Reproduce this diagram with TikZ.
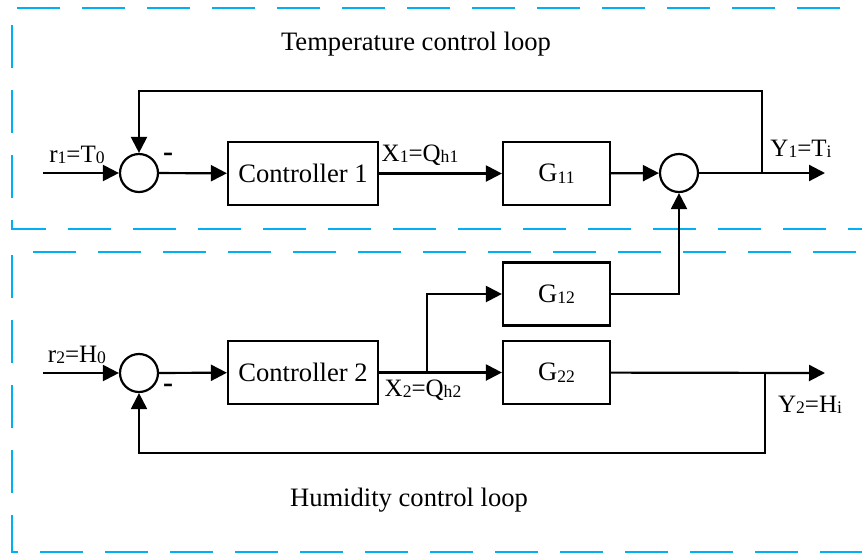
\documentclass[tikz,border=0pt]{standalone}
\usepackage{fontspec}
\setmainfont{Liberation Serif}
\usetikzlibrary{arrows.meta, positioning}
\definecolor{loopblue}{RGB}{0,176,240}
\newcommand{\lsub}[1]{\raisebox{-0.8pt}{\fontsize{8.8}{9}\selectfont #1}}
\tikzset{
    block/.style={rectangle, draw, line width=1.1pt, minimum height=31.5pt, text centered, inner sep=0pt},
    sumnode/.style={circle, draw, line width=1.1pt, minimum size=19pt, inner sep=0pt},
    signal/.style={-{Triangle[length=8pt,width=8pt]}, line width=1.1pt},
    wire/.style={-, line width=1.1pt},
    loopframe/.style={draw=loopblue, line width=1.2pt, dash pattern=on 21.5pt off 11pt},
    varlabel/.style={font=\fontsize{12.5}{14}\selectfont, inner sep=0pt},
    minuslabel/.style={font=\fontsize{15}{16}\selectfont\bfseries, inner sep=0pt},
    looptitle/.style={font=\fontsize{13.3}{16}\selectfont, inner sep=0pt}
}
\begin{document}
\begin{tikzpicture}[x=0.5pt, y=-0.5pt, font=\fontsize{13.3}{16}\selectfont]
    \useasboundingbox (0,0) rectangle (862,553);

    % Loop frames
    \draw[loopframe] (17,8) -- (880,8);
    \draw[loopframe] (12,25) -- (12,229) -- (880,229);
    \draw[loopframe] (33,252) -- (880,252);
    \draw[loopframe] (12,255) -- (12,552) -- (880,552);
    \node[looptitle] (ttitle) at (416,44) {Temperature control loop};
    \node[looptitle] (htitle) at (409,500) {Humidity control loop};

    % Temperature loop
    \coordinate (in1) at (43,173);
    \node[sumnode] (sum1) at (139,173) {};
    \node[block, minimum width=75pt] (ctrl1) at (303,173.5) {Controller 1};
    \node[block, minimum width=53.5pt] (g11) at (556.5,173.5) {G\lsub{11}};
    \node[sumnode] (sum2) at (679,173) {};
    \coordinate (br1) at (762,173);
    \coordinate (y1out) at (825,173);

    % Humidity loop
    \coordinate (in2) at (43,373);
    \node[sumnode] (sum3) at (139,373) {};
    \node[block, minimum width=75pt] (ctrl2) at (303,372.5) {Controller 2};
    \coordinate (br2) at (427,373);
    \node[block, minimum width=53.5pt] (g12) at (556.5,294) {G\lsub{12}};
    \node[block, minimum width=53.5pt] (g22) at (556.5,372.5) {G\lsub{22}};
    \coordinate (br3) at (765,373);
    \coordinate (y2out) at (825,373);

    % Signal labels
    \node[varlabel] (r1) at (77,155) {r\lsub{1}=T\lsub{0}};
    \node[minuslabel] (m1) at (168,157) {-};
    \node[varlabel] (x1) at (420,155) {X\lsub{1}=Q\lsub{h1}};
    \node[varlabel] (y1) at (801,149) {Y\lsub{1}=T\lsub{i}};
    \node[varlabel] (r2) at (77,355) {r\lsub{2}=H\lsub{0}};
    \node[minuslabel] (m2) at (168,388) {-};
    \node[varlabel] (x2) at (423,390) {X\lsub{2}=Q\lsub{h2}};
    \node[varlabel] (y2) at (810,405) {Y\lsub{2}=H\lsub{i}};

    % Connections
    \draw[signal] (in1) -- (sum1);
    \draw[signal] (sum1) -- (ctrl1);
    \draw[signal] (ctrl1) -- (g11);
    \draw[signal] (g11) -- (sum2);
    \draw[signal] (sum2) -- (y1out);
    \draw[signal] (br1) -- ++(0,-82) -| (sum1);
    \draw[signal] (in2) -- (sum3);
    \draw[signal] (sum3) -- (ctrl2);
    \draw[signal] (ctrl2.east) -- (g22.west);
    \draw[signal] (br2) |- (g12);
    \draw[signal] (g12) -| (sum2);
    \draw[signal] (g22) -- (y2out);
    \draw[signal] (br3) -- ++(0,80) -| (sum3);
\end{tikzpicture}
\end{document}
